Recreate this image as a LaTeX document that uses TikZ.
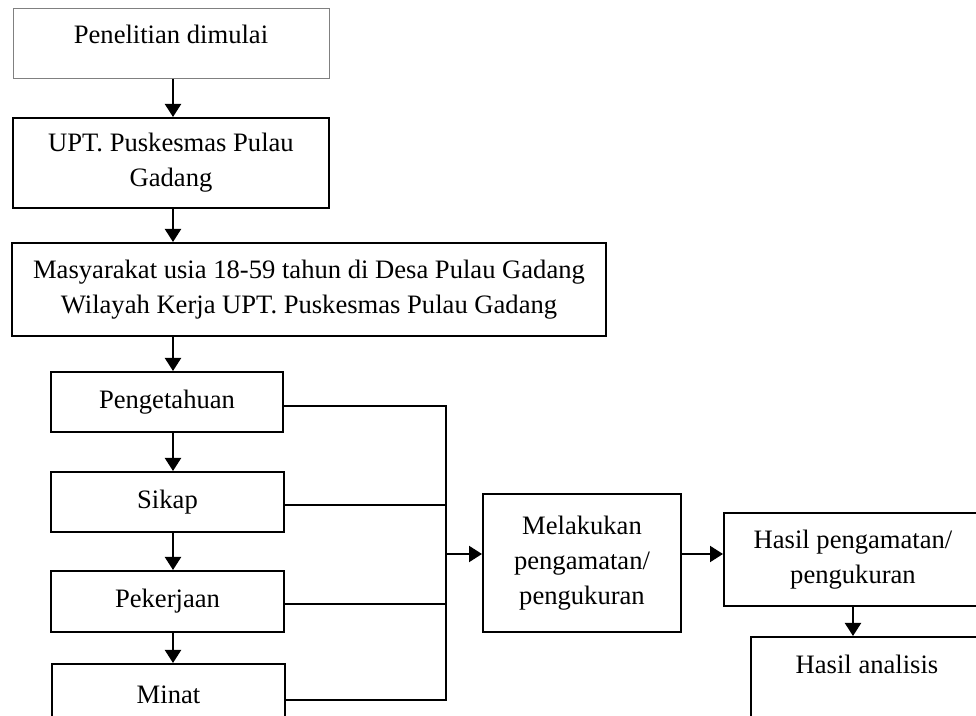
\documentclass[tikz,border=0pt]{standalone}
\usepackage{fontspec}
\setmainfont{Liberation Serif}
\usetikzlibrary{arrows.meta,positioning,calc}

\begin{document}
\begin{tikzpicture}[
  x=0.5pt, y=-0.5pt,
  txt/.style={font=\fontsize{13.3}{17.5}\selectfont, align=center},
  box/.style={rectangle, draw, line width=1pt, inner sep=0pt, txt},
  arrow/.style={-{Triangle[length=6.5pt, width=8pt]}, line width=1pt},
  line/.style={line width=1pt}
]
\useasboundingbox (0,0) rectangle (976,716);
\clip (0,0) rectangle (976,716);

% Left column
\node[box, draw=gray, line width=0.5pt, minimum width=158pt, minimum height=35pt,
  label={[txt, anchor=center, yshift=-13pt]north:Penelitian dimulai}] (start) at (171,44) {};
\node[box, minimum width=158pt, minimum height=45pt] (upt) at (171,163) {UPT. Puskesmas Pulau\\Gadang};
\node[box, minimum width=297pt, minimum height=46.5pt] (masy) at (309,289.5) {Masyarakat usia 18-59 tahun di Desa Pulau Gadang\\Wilayah Kerja UPT. Puskesmas Pulau Gadang};

% Variables
\node[box, minimum width=116pt, minimum height=30pt] (peng) at (167,402) {Pengetahuan};
\node[box, minimum width=116.5pt, minimum height=30pt] (sikap) at (167.5,502) {Sikap};
\node[box, minimum width=116.5pt, minimum height=30.5pt] (pek) at (167.5,601.5) {Pekerjaan};
\node[box, minimum width=116.5pt, minimum height=31pt] (minat) at (168.5,695) {Minat};

% Right side
\node[box, minimum width=99pt, minimum height=69pt] (mel) at (582,563) {Melakukan\\pengamatan/\\pengukuran};
\node[box, minimum width=129pt, minimum height=46.5pt] (hasil) at (853,559.5) {Hasil pengamatan/\\pengukuran};
\node[box, minimum width=116pt, minimum height=47.5pt,
  label={[txt, anchor=center, yshift=-14pt]north:Hasil analisis}] (analisis) at (867,684.5) {};

\coordinate (col) at (173,0);
\coordinate (join) at (446,554);

% Arrows
\draw[arrow] (start.south -| col) -- (upt.north -| col);
\draw[arrow] (upt.south -| col) -- (masy.north -| col);
\draw[arrow] (masy.south -| col) -- (peng.north -| col);
\draw[arrow] (peng.south -| col) -- (sikap.north -| col);
\draw[arrow] (sikap.south -| col) -- (pek.north -| col);
\draw[arrow] (pek.south -| col) -- (minat.north -| col);

% Collecting lines
\draw[line] ([yshift=-2pt]peng.east) -- ([yshift=-2pt]peng.east -| join) -- ([yshift=-2.5pt]minat.east -| join) -- ([yshift=-2.5pt]minat.east);
\draw[line] ([yshift=-1.5pt]sikap.east) -- ([yshift=-1.5pt]sikap.east -| join);
\draw[line] ([yshift=-1.25pt]pek.east) -- ([yshift=-1.25pt]pek.east -| join);

\draw[arrow] (join) -- (join -| mel.west);
\draw[arrow] (mel.east |- join) -- (hasil.west |- join);
\draw[arrow] (hasil.south) -- (hasil.south |- analisis.north);

\end{tikzpicture}
\end{document}
